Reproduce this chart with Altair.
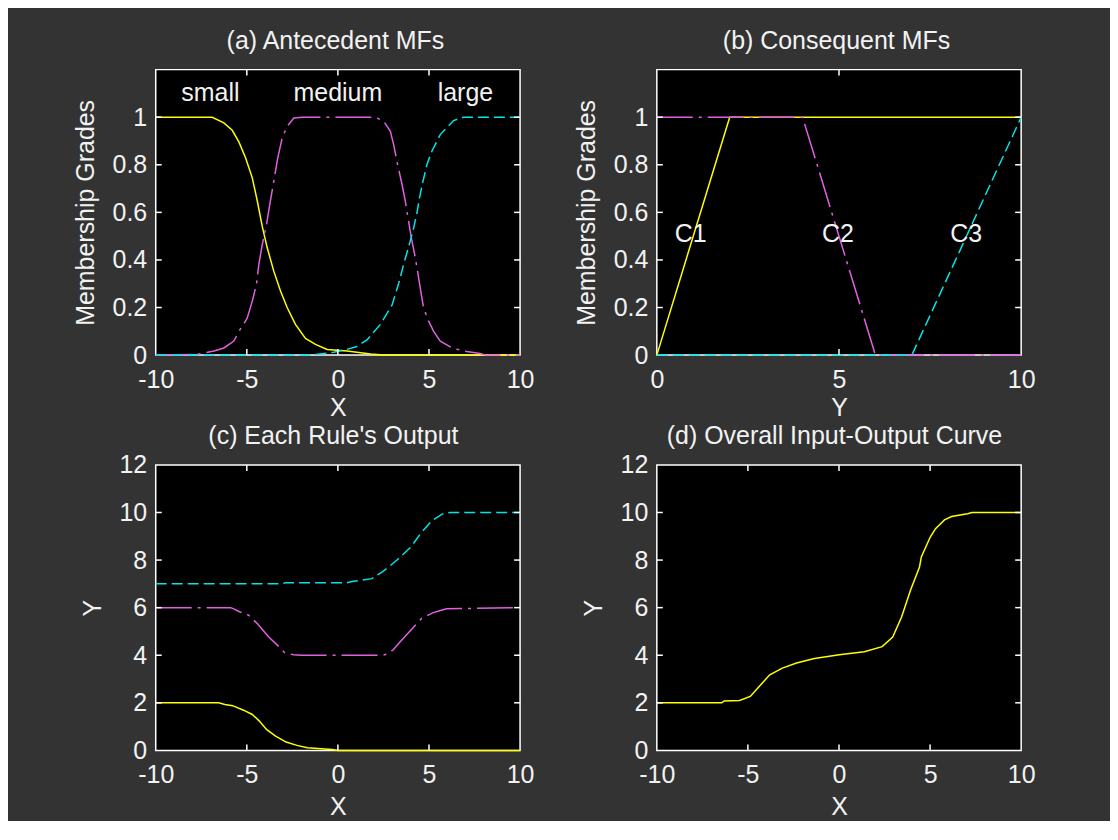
import altair as alt
import pandas as pd

# ---------------- data ----------------
# (a) antecedent MFs
small_x = [-10, -6.9, -6.26, -5.8, -5.43, -5.07, -4.7, -4.43, -4.15, -3.88, -3.52, -3.15,
           -2.78, -2.33, -1.78, -1.23, -0.59, 0.5, 1.8, 2.5, 10]
small_y = [1, 1, 0.976, 0.945, 0.895, 0.83, 0.745, 0.65, 0.54, 0.451, 0.353, 0.269,
           0.199, 0.129, 0.07, 0.045, 0.024, 0.017, 0.005, 0, 0]
medium_x = [-10, -7.72, -6.8, -6.26, -5.71, -5.43, -4.98, -4.7, -4.47, -4.34, -4.15, -3.92,
            -3.74, -3.52, -3.3, -3.06, -2.78, -2.42, -1.96, 2.05, 2.51, 2.88, 3.06, 3.24,
            3.52, 3.7, 3.88, 4.03, 4.25, 4.43, 4.7, 4.98, 5.25, 5.62, 6.26, 6.89, 7.81, 8.1, 10]
medium_y = [0, 0.003, 0.017, 0.03, 0.059, 0.10, 0.155, 0.227, 0.297, 0.381, 0.465, 0.549,
            0.633, 0.731, 0.829, 0.913, 0.962, 0.997, 1, 1, 0.983, 0.941, 0.885, 0.815,
            0.717, 0.647, 0.563, 0.493, 0.409, 0.325, 0.199, 0.143, 0.101, 0.059, 0.031, 0.017,
            0.007, 0, 0]
large_x = [-10, -1.5, -0.23, 0.5, 1.0, 1.6, 2.33, 2.97, 3.33, 3.64, 3.97, 4.16, 4.34, 4.48,
           4.67, 4.89, 5.16, 5.62, 6.35, 6.89, 10]
large_y = [0, 0, 0.012, 0.024, 0.035, 0.064, 0.129, 0.21, 0.30, 0.39, 0.479, 0.535, 0.598,
           0.661, 0.731, 0.801, 0.857, 0.927, 0.986, 1, 1]
mf_labels = ["small", "medium", "large"]
mf_label_x = [-7, 0, 7]
mf_label_y = [1.1, 1.1, 1.1]

# (b) consequent MFs
c1_x = [0, 2, 10]
c1_y = [0, 1, 1]
c2_x = [0, 4, 6, 10]
c2_y = [1, 1, 0, 0]
c3_x = [0, 7, 10]
c3_y = [0, 0, 1]
c_labels = ["C1", "C2", "C3"]
c_label_x = [0.93, 4.97, 8.49]
c_label_y = [0.51, 0.51, 0.51]

# (c) each rule's output
r1_x = [-10, -6.55, -6.2, -5.78, -5.18, -4.7, -4.31, -3.92, -3.42, -2.84, -2.25, -1.67, -0.31, 0, 10]
r1_y = [2, 2, 1.93, 1.88, 1.69, 1.51, 1.23, 0.88, 0.60, 0.35, 0.21, 0.11, 0.04, 0, 0]
r2_x = [-10, -5.9, -5.78, -5.4, -4.9, -4.4, -3.81, -3.23, -2.93, -2.44, -2.0, 2.0, 2.44, 2.7,
        3.04, 3.42, 4.01, 4.6, 5.2, 5.58, 5.97, 10]
r2_y = [6, 6, 5.97, 5.83, 5.68, 5.31, 4.78, 4.36, 4.11, 4.02, 4.0, 4.0, 4.0, 4.05,
        4.23, 4.57, 5.06, 5.55, 5.78, 5.87, 5.95, 6]
r3_x = [-10, -3.0, -2.9, 0.5, 0.78, 1.86, 2.44, 3.23, 4.01, 4.6, 5.18, 5.77, 6.16, 10]
r3_y = [7, 7, 7.05, 7.05, 7.1, 7.22, 7.5, 7.99, 8.55, 9.18, 9.67, 9.95, 10, 10]

# (d) overall input-output curve
out_x = [-10, -6.44, -6.3, -5.46, -4.87, -4.38, -3.8, -3.11, -2.33, -1.35, 0.02, 1.39, 2.37,
         2.95, 3.44, 3.93, 4.42, 4.52, 5.01, 5.3, 5.79, 6.18, 7.06, 7.3, 10]
out_y = [2, 2, 2.08, 2.1, 2.27, 2.69, 3.18, 3.46, 3.67, 3.86, 4.02, 4.15, 4.36,
         4.76, 5.62, 6.74, 7.71, 8.13, 8.97, 9.32, 9.69, 9.83, 9.95, 10, 10]

xticks_ab = [-10, -5, 0, 5, 10]
xticks_b = [0, 5, 10]
yticks_mf = [0, 0.2, 0.4, 0.6, 0.8, 1]
yticks_out = [0, 2, 4, 6, 8, 10, 12]

# ---------------- styling ----------------
W, H = 365, 286
FONT = "Liberation Sans"
FS = 25
TXT = "#f2f2f2"
BG = "#333333"
YEL = "#ffff00"
MAG = "#e060e0"
CYA = "#00e5e5"
DASH_MAG = [36, 6, 3, 6]
DASH_CYA = [11, 5]
TICK = 6


def make_axis(values, title, is_x, tpos):
    common = dict(values=values, labelExpr="'' + datum.value", domain=False, ticks=False,
                  grid=False, labelColor=TXT, labelFont=FONT, labelFontSize=FS,
                  labelFlush=False, labelOverlap=False, title=title, titleColor=TXT,
                  titleFont=FONT, titleFontSize=FS, titleFontWeight="normal",
                  titleBaseline="middle", zindex=1)
    if is_x:
        return alt.Axis(labelPadding=12, titleY=tpos, **common)
    return alt.Axis(labelPadding=9, titleX=tpos, **common)


def panel(series, xdom, ydom, xvals, yvals, xtitle, ytitle, ytx, xty, title, title_x,
          labels=None, corner=None):
    xs = alt.Scale(domain=xdom, nice=False, zero=False)
    ys = alt.Scale(domain=ydom, nice=False, zero=False)
    xa = make_axis(xvals, xtitle, True, xty)
    ya = make_axis(yvals, ytitle, False, ytx)
    layers = []
    if corner is not None:
        cx, cy = corner
        layers.append(alt.Chart(pd.DataFrame({"k": [0]})).mark_rect(color=BG).encode(
            x=alt.value(cx), x2=alt.value(cx + 1), y=alt.value(cy), y2=alt.value(cy + 1)))
    for sx, sy, color, dash in series:
        kw = dict(color=color, strokeWidth=1.5)
        if dash:
            kw["strokeDash"] = dash
        layers.append(alt.Chart(pd.DataFrame({"x": sx, "y": sy})).mark_line(**kw).encode(
            x=alt.X("x:Q", scale=xs, axis=xa), y=alt.Y("y:Q", scale=ys, axis=ya)))
    inner_x = [v for v in xvals if v not in (xdom[0], xdom[1])]
    inner_y = [v for v in yvals if v not in (ydom[0], ydom[1])]
    tx = alt.Chart(pd.DataFrame({"x": inner_x}))
    ty = alt.Chart(pd.DataFrame({"y": inner_y}))
    for y0, y1 in ((H, H - TICK), (0, TICK)):
        layers.append(tx.mark_rule(color="#ffffff", strokeWidth=1.5).encode(
            x=alt.X("x:Q", scale=xs, axis=xa), y=alt.value(y0), y2=alt.value(y1)))
    for x0, x1 in ((0, TICK), (W, W - TICK)):
        layers.append(ty.mark_rule(color="#ffffff", strokeWidth=1.5).encode(
            y=alt.Y("y:Q", scale=ys, axis=ya), x=alt.value(x0), x2=alt.value(x1)))
    if labels is not None:
        lt, lx, ly = labels
        layers.append(alt.Chart(pd.DataFrame({"x": lx, "y": ly, "t": lt})).mark_text(
            font=FONT, fontSize=FS, color=TXT, align="center", baseline="middle").encode(
            x=alt.X("x:Q", scale=xs, axis=xa), y=alt.Y("y:Q", scale=ys, axis=ya), text="t:N"))
    layers.append(alt.Chart(pd.DataFrame({"t": [title]})).mark_text(
        font=FONT, fontSize=FS, color=TXT, align="center", baseline="alphabetic").encode(
        text="t:N", x=alt.value(title_x), y=alt.value(-21)))
    return alt.layer(*layers).properties(width=W, height=H)


pa = panel([(small_x, small_y, YEL, None), (medium_x, medium_y, MAG, DASH_MAG),
            (large_x, large_y, CYA, DASH_CYA)],
           [-10, 10], [0, 1.2], xticks_ab, yticks_mf, "X", "Membership Grades", -70, 53,
           "(a) Antecedent MFs", 180, labels=(mf_labels, mf_label_x, mf_label_y),
           corner=(-147, -60))
pb = panel([(c1_x, c1_y, YEL, None), (c2_x, c2_y, MAG, DASH_MAG), (c3_x, c3_y, CYA, DASH_CYA)],
           [0, 10], [0, 1.2], xticks_b, yticks_mf, "Y", "Membership Grades", -70, 53,
           "(b) Consequent MFs", 180, labels=(c_labels, c_label_x, c_label_y))
pc = panel([(r1_x, r1_y, YEL, None), (r2_x, r2_y, MAG, DASH_MAG), (r3_x, r3_y, CYA, DASH_CYA)],
           [-10, 10], [0, 12], xticks_ab, yticks_out, "X", "Y", -63, 56,
           "(c) Each Rule's Output", 178)
pd_ = panel([(out_x, out_y, YEL, None)],
            [-10, 10], [0, 12], xticks_ab, yticks_out, "X", "Y", -63, 56,
            "(d) Overall Input-Output Curve", 178, corner=(452, 81))

chart = alt.concat(pa, pb, pc, pd_, columns=2,
                   spacing=alt.RowColnumber(row=110, column=137),
                   bounds="flush").properties(background=BG, padding=0).configure_view(
    fill="#000000", stroke="#ffffff", strokeWidth=1.5)

chart.save("out.html", embed_options={"renderer": "svg", "actions": False})
